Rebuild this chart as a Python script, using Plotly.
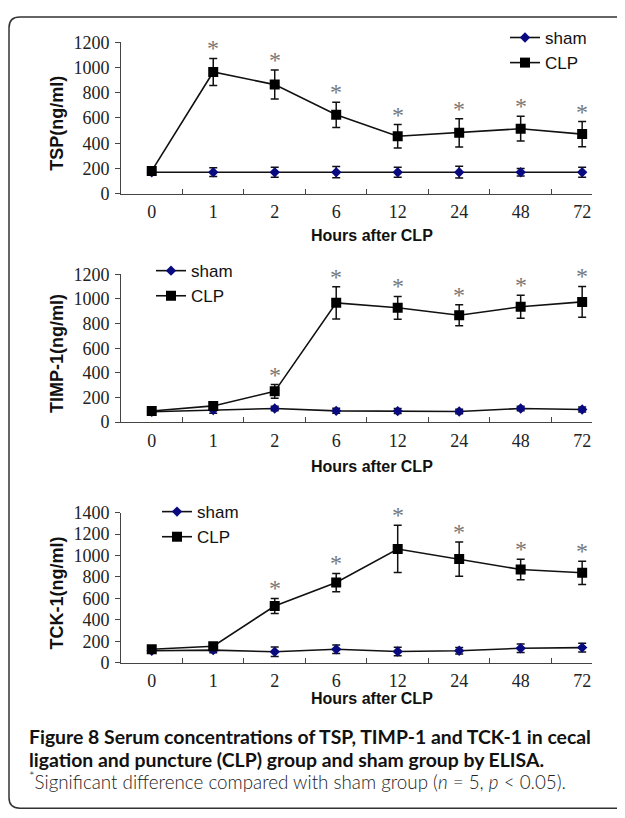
import plotly.graph_objects as go

W, H = 625, 818
OFF = 8  # the page body adds an 8px margin around the figure

hours = ["0", "1", "2", "6", "12", "24", "48", "72"]

tsp_sham = [170, 170, 170, 170, 170, 170, 170, 170]
tsp_sham_err = [20, 35, 40, 45, 40, 47, 30, 40]
tsp_clp = [180, 965, 865, 625, 455, 482, 515, 472]
tsp_clp_err = [20, 108, 115, 100, 93, 113, 98, 100]
tsp_star = [0, 1, 1, 1, 1, 1, 1, 1]

timp_sham = [85, 98, 111, 92, 90, 87, 111, 103]
timp_sham_err = [10, 25, 18, 20, 20, 18, 18, 20]
timp_clp = [90, 132, 250, 968, 928, 868, 936, 976]
timp_clp_err = [10, 20, 55, 130, 92, 85, 93, 125]
timp_star = [0, 0, 1, 1, 1, 1, 1, 1]

tck_sham = [112, 118, 103, 127, 106, 112, 136, 142]
tck_sham_err = [20, 25, 45, 40, 40, 30, 40, 40]
tck_clp = [127, 155, 530, 748, 1061, 967, 870, 839]
tck_clp_err = [25, 25, 70, 85, 220, 160, 95, 108]
tck_star = [0, 0, 1, 1, 1, 1, 1, 1]

y_titles = ["TSP(ng/ml)", "TIMP-1(ng/ml)", "TCK-1(ng/ml)"]
y_max = [1200, 1200, 1400]
x_title = "Hours after CLP"
caption1 = "Figure 8 Serum concentrations of TSP, TIMP-1 and TCK-1 in cecal"
caption2 = "ligation and puncture (CLP) group and sham group by ELISA."
footnote = "<sup>*</sup>Significant difference compared with sham group (<i>n</i> = 5, <i>p</i> &lt; 0.05)."

SERIF = "Liberation Serif, Times New Roman, serif"
SANS = "Liberation Sans, Arial, sans-serif"
CAP = "Lato, Noto Sans, sans-serif"


def px(x):
    return (x - OFF) / W


def py(y):
    return 1 - (y - OFF) / H


# pixel layout of panels in the window: (y of 0, y of max)
panels = [(188, 33), (422.3, 270.7), (669, 515)]
x_left, x_right = 121, 592
legend_pos = [(505, 10), (151, 249), (157, 496)]
xtitle_y = [231, 468, 706]

data_sets = [
    (tsp_sham, tsp_sham_err, tsp_clp, tsp_clp_err, tsp_star),
    (timp_sham, timp_sham_err, timp_clp, timp_clp_err, timp_star),
    (tck_sham, tck_sham_err, tck_clp, tck_clp_err, tck_star),
]

fig = go.Figure()
annotations = []
xpos = list(range(len(hours)))

for i, (sham, sham_e, clp, clp_e, star) in enumerate(data_sets):
    n = "" if i == 0 else str(i + 1)
    leg = "legend" if i == 0 else f"legend{i + 1}"
    fig.add_trace(go.Scatter(
        x=xpos, y=sham, name="sham", mode="lines+markers",
        xaxis="x" + n, yaxis="y" + n, legend=leg, legendgroup=f"s{i}",
        line=dict(color="#111111", width=1.6),
        marker=dict(symbol="diamond", size=8, color="#0a0a80",
                    line=dict(color="#0a0a80", width=0)),
        error_y=dict(type="data", array=sham_e, color="#111111",
                     thickness=1.5, width=4),
    ))
    fig.add_trace(go.Scatter(
        x=xpos, y=clp, name="CLP", mode="lines+markers",
        xaxis="x" + n, yaxis="y" + n, legend=leg, legendgroup=f"c{i}",
        line=dict(color="#111111", width=1.6),
        marker=dict(symbol="square", size=10, color="#000000"),
        error_y=dict(type="data", array=clp_e, color="#111111",
                     thickness=1.5, width=4),
    ))
    for k, s in enumerate(star):
        if s:
            annotations.append(dict(
                x=k, y=clp[k] + clp_e[k], xref="x" + n, yref="y" + n,
                text="*", showarrow=False, yanchor="middle", yshift=10,
                font=dict(family=SERIF, size=24, color="#777777"),
            ))
    y0, y1 = panels[i]
    xa = dict(
        domain=[px(x_left), px(x_right)], anchor="y" + n,
        range=[-0.5, 7.16], showline=True, linecolor="#444444", linewidth=1,
        tickmode="array", tickvals=xpos, ticktext=hours, ticks="",
        tickfont=dict(family=SERIF, size=18, color="#222222"),
        showgrid=False, zeroline=False, ticklabelstandoff=2,
        minor=dict(tickmode="array", tickvals=[v + 0.5 for v in xpos[:-1]],
                   ticks="inside", ticklen=5, tickcolor="#444444", showgrid=False),
    )
    ya = dict(
        domain=[py(y0), py(y1)], anchor="x" + n,
        range=[0, y_max[i]], dtick=200, showline=True, linecolor="#444444",
        linewidth=1, ticks="outside", ticklen=5, tickcolor="#444444",
        tickfont=dict(family=SERIF, size=18, color="#222222"),
        showgrid=False, zeroline=False, ticklabelstandoff=2,
    )
    fig.update_layout(**{"xaxis" + n: xa, "yaxis" + n: ya})
    annotations.append(dict(
        x=px(57), y=py((y0 + y1) / 2 + 6), xref="paper", yref="paper",
        text=f"<b>{y_titles[i]}</b>", textangle=-90, showarrow=False,
        xanchor="center", yanchor="middle",
        font=dict(family=SANS, size=18, color="#111111"),
    ))
    annotations.append(dict(
        x=px(372), y=py(xtitle_y[i]), xref="paper", yref="paper",
        text=f"<b>{x_title}</b>", showarrow=False,
        xanchor="center", yanchor="middle",
        font=dict(family=SANS, size=16, color="#111111"),
    ))
    lx, ly = legend_pos[i]
    fig.update_layout(**{leg: dict(
        x=px(lx), y=py(ly), xanchor="left", yanchor="top",
        bgcolor="rgba(0,0,0,0)", borderwidth=0, tracegroupgap=0,
        font=dict(family=SANS, size=17, color="#111111"),
    )})

annotations += [
    dict(x=px(27), y=py(745), xref="paper", yref="paper", xanchor="left",
         yanchor="middle", showarrow=False, text=f"<b>{caption1}</b>",
         font=dict(family=CAP, size=19.4, color="#111111")),
    dict(x=px(27), y=py(768), xref="paper", yref="paper", xanchor="left",
         yanchor="middle", showarrow=False, text=f"<b>{caption2}</b>",
         font=dict(family=CAP, size=19.4, color="#111111")),
    dict(x=px(27), y=py(790), xref="paper", yref="paper", xanchor="left",
         yanchor="middle", showarrow=False, text=footnote,
         font=dict(family=CAP, size=18.8, color="#222222", weight=300)),
]

# rounded frame (right side and bottom edge run to the picture's border)
frame = "M 700,7 L 20,7 Q 9,7 9,18 L 9,807 Q 9,818 20,818 L 700,818"


def to_paper_path(p):
    out = []
    toks = p.replace(",", " ").split()
    j = 0
    while j < len(toks):
        t = toks[j]
        if t in ("M", "L", "Q"):
            out.append(t)
            j += 1
            continue
        xv = float(toks[j])
        yv = float(toks[j + 1])
        out.append(f"{px(xv):.5f},{py(yv):.5f}")
        j += 2
    return " ".join(out)


fig.update_layout(
    width=W, height=H, margin=dict(l=0, r=0, t=0, b=0),
    paper_bgcolor="white", plot_bgcolor="white",
    showlegend=True, annotations=annotations,
    shapes=[dict(type="path", xref="paper", yref="paper",
                 path=to_paper_path(frame),
                 line=dict(color="#333333", width=1.5))],
)

fig.write_html("out.html")
